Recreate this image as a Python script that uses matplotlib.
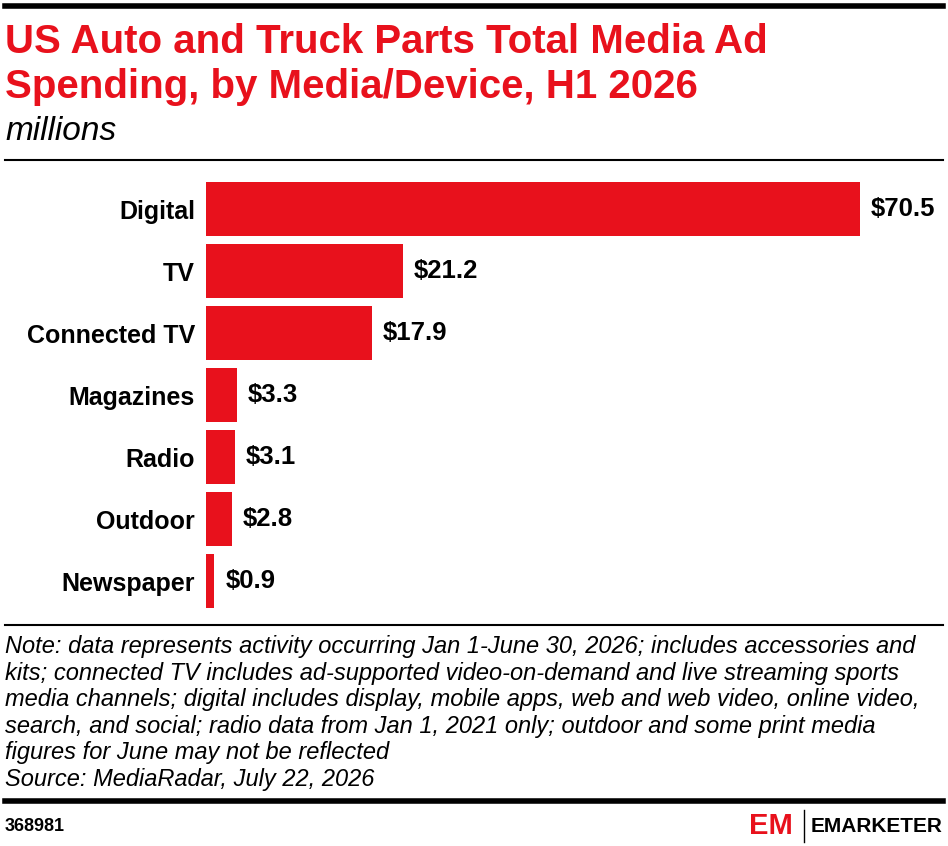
import matplotlib
matplotlib.use("Agg")
import matplotlib.pyplot as plt

# ---------------------------- data ----------------------------
categories = ["Digital", "TV", "Connected TV", "Magazines", "Radio", "Outdoor", "Newspaper"]
values = [70.5, 21.2, 17.9, 3.3, 3.1, 2.8, 0.9]
value_labels = ["$70.5", "$21.2", "$17.9", "$3.3", "$3.1", "$2.8", "$0.9"]

title_lines = ["US Auto and Truck Parts Total Media Ad",
               "Spending, by Media/Device, H1 2026"]
subtitle = "millions"
note = ("Note: data represents activity occurring Jan 1-June 30, 2026; includes accessories and\n"
        "kits; connected TV includes ad-supported video-on-demand and live streaming sports\n"
        "media channels; digital includes display, mobile apps, web and web video, online video,\n"
        "search, and social; radio data from Jan 1, 2021 only; outdoor and some print media\n"
        "figures for June may not be reflected\n"
        "Source: MediaRadar, July 22, 2026")
chart_id = "368981"

# ---------------------------- style ----------------------------
RED = "#e8111c"
W, H = 948, 846
FONT = "Liberation Sans"


def fx(px):
    return px / W


def fy(px):
    return 1 - px / H


fig = plt.figure(figsize=(W / 100, H / 100), dpi=100)
fig.patch.set_facecolor("white")

# bar area: first bar centre at y=209px, last at 581px, 62px apart
ax = fig.add_axes([fx(206), fy(612), fx(943) - fx(206), fy(178) - fy(612)])
pos = list(range(len(categories)))
bars = ax.barh(pos, values, height=54 / 62, color=RED, zorder=2)
ax.set_ylim(len(categories) - 0.5, -0.5)
ax.set_xlim(0, max(values) * 737 / 654)
ax.set_yticks(pos)
ax.set_yticklabels(categories, fontsize=18, fontweight="bold", family=FONT)
ax.tick_params(axis="y", length=0, pad=8)
ax.set_xticks([])
for s in ax.spines.values():
    s.set_visible(False)
ax.bar_label(bars, labels=value_labels, padding=8, fontsize=18.5,
             fontweight="bold", family=FONT)

# ------------------------- header ----------------------------
fig.add_artist(plt.Line2D([fx(5), fx(943)], [fy(6), fy(6)], color="black", lw=4))
for i, line in enumerate(title_lines):
    fig.text(fx(5), fy(53 + 45 * i), line, color=RED, fontsize=29, fontweight="bold",
             family=FONT, va="baseline", ha="left")
fig.text(fx(5), fy(140), subtitle, fontsize=24, style="italic",
         family=FONT, va="baseline", ha="left")
fig.add_artist(plt.Line2D([fx(5), fx(943)], [fy(160), fy(160)], color="black", lw=1.5))

# ------------------------- footer ----------------------------
fig.add_artist(plt.Line2D([fx(5), fx(943)], [fy(625), fy(625)], color="black", lw=1.5))
fig.text(fx(5), fy(635), note, fontsize=17, style="italic", family=FONT,
         va="top", ha="left", linespacing=1.2)
fig.add_artist(plt.Line2D([fx(5), fx(943)], [fy(801), fy(801)], color="black", lw=4))
fig.text(fx(5), fy(826), chart_id, fontsize=13, fontweight="bold", family=FONT,
         va="center", ha="left")
fig.text(fx(793), fy(826), "EM", color=RED, fontsize=21, fontweight="bold",
         family=FONT, va="center", ha="right")
fig.add_artist(plt.Line2D([fx(804), fx(804)], [fy(810), fy(842)], color="black", lw=1))
fig.text(fx(943), fy(826), "EMARKETER", fontsize=15, fontweight="bold", family=FONT,
         va="center", ha="right")

fig.savefig("out.png", dpi=100, facecolor="white")
